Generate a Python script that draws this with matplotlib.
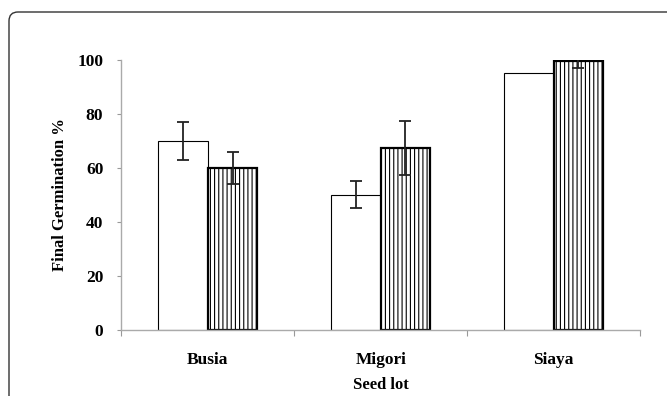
import numpy as np
import matplotlib
matplotlib.use("Agg")
import matplotlib.pyplot as plt
from matplotlib.patches import FancyBboxPatch

# data
seed_lots = ["Busia", "Migori", "Siaya"]
plain_vals = [70, 50, 95]
plain_err = [7, 5, 0]
hatched_vals = [60, 67.3, 99.6]
hatched_err = [6, 10, 2.6]
y_ticks = [0, 20, 40, 60, 80, 100]

plt.rcParams["font.family"] = ["Liberation Serif", "DejaVu Serif"]
plt.rcParams["font.weight"] = "bold"
plt.rcParams["hatch.color"] = "black"
plt.rcParams["hatch.linewidth"] = 0.8

fig = plt.figure(figsize=(6.67, 3.96), dpi=100)
ax = fig.add_axes([0.182, 0.1667, 0.7775, 0.6818])

x = np.arange(len(seed_lots))
w = 0.286

ax.bar(x - w / 2, plain_vals, w, color="white", edgecolor="black", linewidth=0.8, zorder=2)
ax.bar(x + w / 2, hatched_vals, w, color="white", edgecolor="black", linewidth=1.6,
       hatch="||||", zorder=2)

# error bars, skipped where no error is shown
for offs, vals, errs in [(-w / 2, plain_vals, plain_err), (w / 2, hatched_vals, hatched_err)]:
    idx = [i for i, e in enumerate(errs) if e > 0]
    ax.errorbar(x[idx] + offs, np.array(vals)[idx], yerr=np.array(errs)[idx], fmt="none",
                ecolor="#222222", elinewidth=1.3, capsize=4, capthick=1.3, zorder=3)

ax.set_xlim(-0.5, len(seed_lots) - 0.5)
ax.set_ylim(0, 100)
ax.set_yticks(y_ticks)
ax.set_xticks(np.arange(len(seed_lots) + 1) - 0.5, minor=False)
ax.set_xticklabels([])
ax.set_xticks(x, minor=True)
ax.set_xticklabels(seed_lots, minor=True, fontsize=12.5, fontweight="bold")
ax.tick_params(axis="x", which="minor", length=0, pad=16)
ax.tick_params(axis="x", which="major", length=4, color="#999999", direction="out")
ax.tick_params(axis="y", length=3, color="#999999", direction="out", labelsize=12.5, pad=10)

for s in ["top", "right"]:
    ax.spines[s].set_visible(False)
for s in ["left", "bottom"]:
    ax.spines[s].set_color("#aaaaaa")
    ax.spines[s].set_linewidth(1.0)

ax.set_ylabel("Final Germination %", fontsize=12, fontweight="bold", labelpad=7)
ax.set_xlabel("Seed lot", fontsize=12, fontweight="bold", labelpad=6)

# rounded frame around the figure (cropped at right and bottom)
frame = FancyBboxPatch((9, -20), 720, 404, boxstyle="round,pad=0,rounding_size=9",
                       transform=None, facecolor="none", edgecolor="#333333",
                       linewidth=1.0)
fig.add_artist(frame)

fig.savefig("out.png", dpi=100)
